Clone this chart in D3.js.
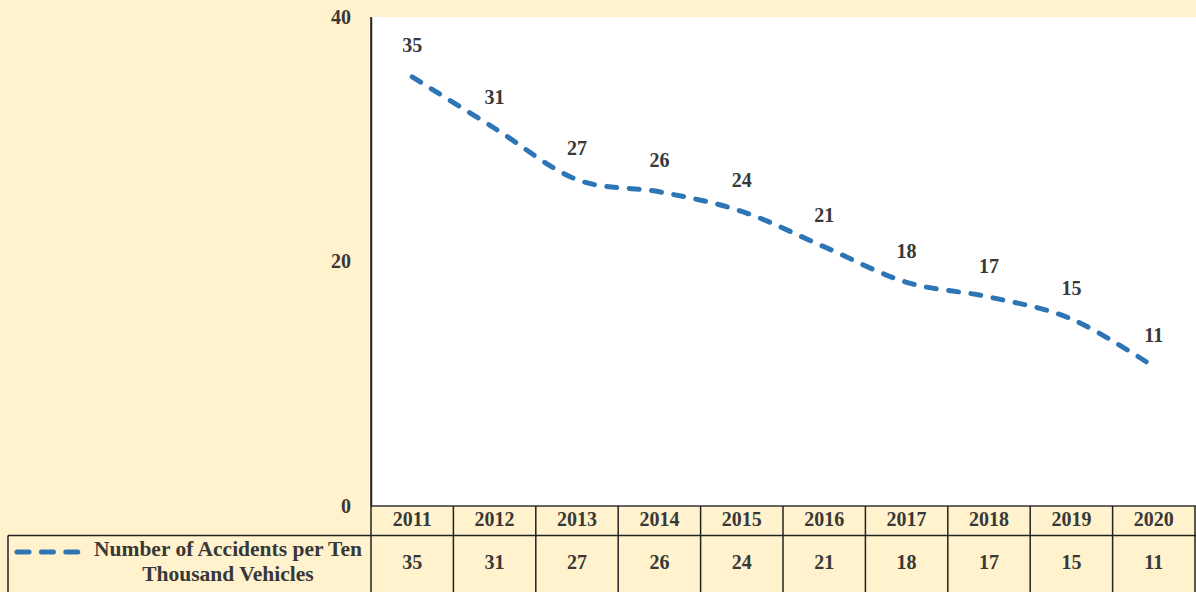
<!DOCTYPE html>
<html>
<head>
<meta charset="utf-8">
<script src="https://cdn.jsdelivr.net/npm/d3@7"></script>
<style>
  body { margin: 0; background: #FFF2CC; }
  svg { display: block; }
  text { font-family: "Liberation Serif", "Times New Roman", serif; font-weight: bold; fill: #383838; }
</style>
</head>
<body>
<div class="chart"></div>
<script>
// data
var years = ["2011", "2012", "2013", "2014", "2015", "2016", "2017", "2018", "2019", "2020"];
var values = [35.1, 30.9, 26.7, 25.7, 24.1, 21.2, 18.3, 17.1, 15.3, 11.4];
var tableValues = [35, 31, 27, 26, 24, 21, 18, 17, 15, 11];
var yTicks = [0, 20, 40];
var seriesName = ["Number of Accidents per Ten", "Thousand Vehicles"];

var svgWidth = 1196;
var svgHeight = 592;

var plotLeft = 371, plotRight = 1195, plotTop = 17, plotBottom = 506;
var headerBottom = 535.5;
var lineColor = "#2E75B6";

var svg = d3.select(".chart")
            .append("svg")
            .attr("width", svgWidth)
            .attr("height", svgHeight);

svg.append("rect")
   .attr("width", svgWidth)
   .attr("height", svgHeight)
   .attr("fill", "#FFF2CC");

var x = d3.scaleBand().domain(years).range([plotLeft, plotRight]).padding(0);
var y = d3.scaleLinear().domain([0, 40]).range([plotBottom, plotTop]);

// white plot area
svg.append("rect")
   .attr("x", plotLeft)
   .attr("y", plotTop)
   .attr("width", svgWidth - plotLeft)
   .attr("height", plotBottom - plotTop)
   .attr("fill", "#ffffff");

// y axis
var yAxis = d3.axisLeft(y).tickValues(yTicks).tickSize(0).tickPadding(20);
var gy = svg.append("g")
   .attr("transform", "translate(" + plotLeft + ",0)")
   .call(yAxis);
gy.attr("font-family", null);
gy.select(".domain").attr("stroke", "#333").attr("stroke-width", 1.5);
gy.selectAll("text")
  .attr("font-size", 20)
  .attr("fill", "#383838");

// line
var line = d3.line()
  .x(function(d, i) { return x(years[i]) + x.bandwidth() / 2; })
  .y(function(d) { return y(d); })
  .curve(d3.curveCatmullRom.alpha(0));

svg.append("path")
   .datum(values)
   .attr("d", line)
   .attr("fill", "none")
   .attr("stroke", lineColor)
   .attr("stroke-width", 5)
   .attr("stroke-linecap", "round")
   .attr("stroke-dasharray", "10,12.5");

// data labels
svg.selectAll(".dlabel")
   .data(values)
   .enter().append("text")
   .attr("class", "dlabel")
   .attr("x", function(d, i) { return x(years[i]) + x.bandwidth() / 2; })
   .attr("y", function(d) { return y(d) - 29; })
   .attr("text-anchor", "middle")
   .attr("dominant-baseline", "middle")
   .attr("font-size", 20)
   .text(function(d, i) { return tableValues[i]; });

// data table
var table = svg.append("g").attr("class", "table");

table.append("line")
     .attr("x1", plotLeft).attr("x2", svgWidth)
     .attr("y1", plotBottom).attr("y2", plotBottom)
     .attr("stroke", "#333").attr("stroke-width", 1.5);
table.append("line")
     .attr("x1", 8).attr("x2", svgWidth)
     .attr("y1", headerBottom).attr("y2", headerBottom)
     .attr("stroke", "#222").attr("stroke-width", 1.5);
table.append("line")
     .attr("x1", 8).attr("x2", 8)
     .attr("y1", headerBottom).attr("y2", svgHeight)
     .attr("stroke", "#222").attr("stroke-width", 1.5);

var borders = years.map(function(d) { return x(d); }).concat([plotRight]);
table.selectAll(".vline")
     .data(borders)
     .enter().append("line")
     .attr("class", "vline")
     .attr("x1", function(d) { return d; })
     .attr("x2", function(d) { return d; })
     .attr("y1", function(d, i) { return i === 0 ? plotTop : plotBottom; })
     .attr("y2", svgHeight)
     .attr("stroke", "#222")
     .attr("stroke-width", 1.5);

table.selectAll(".year")
     .data(years)
     .enter().append("text")
     .attr("class", "year")
     .attr("x", function(d) { return x(d) + x.bandwidth() / 2; })
     .attr("y", (plotBottom + headerBottom) / 2 + 1)
     .attr("text-anchor", "middle")
     .attr("dominant-baseline", "middle")
     .attr("font-size", 20)
     .text(function(d) { return d; });

table.selectAll(".val")
     .data(tableValues)
     .enter().append("text")
     .attr("class", "val")
     .attr("x", function(d, i) { return x(years[i]) + x.bandwidth() / 2; })
     .attr("y", 564)
     .attr("text-anchor", "middle")
     .attr("dominant-baseline", "middle")
     .attr("font-size", 20)
     .text(function(d) { return d; });

// legend key
table.append("line")
     .attr("x1", 17).attr("x2", 80)
     .attr("y1", 552).attr("y2", 552)
     .attr("stroke", lineColor)
     .attr("stroke-width", 5)
     .attr("stroke-linecap", "round")
     .attr("stroke-dasharray", "12,12.4");

table.selectAll(".legend")
     .data(seriesName)
     .enter().append("text")
     .attr("class", "legend")
     .attr("x", 228)
     .attr("y", function(d, i) { return 551 + i * 25; })
     .attr("text-anchor", "middle")
     .attr("dominant-baseline", "middle")
     .attr("font-size", 21.5)
     .text(function(d) { return d; });
</script>
</body>
</html>
